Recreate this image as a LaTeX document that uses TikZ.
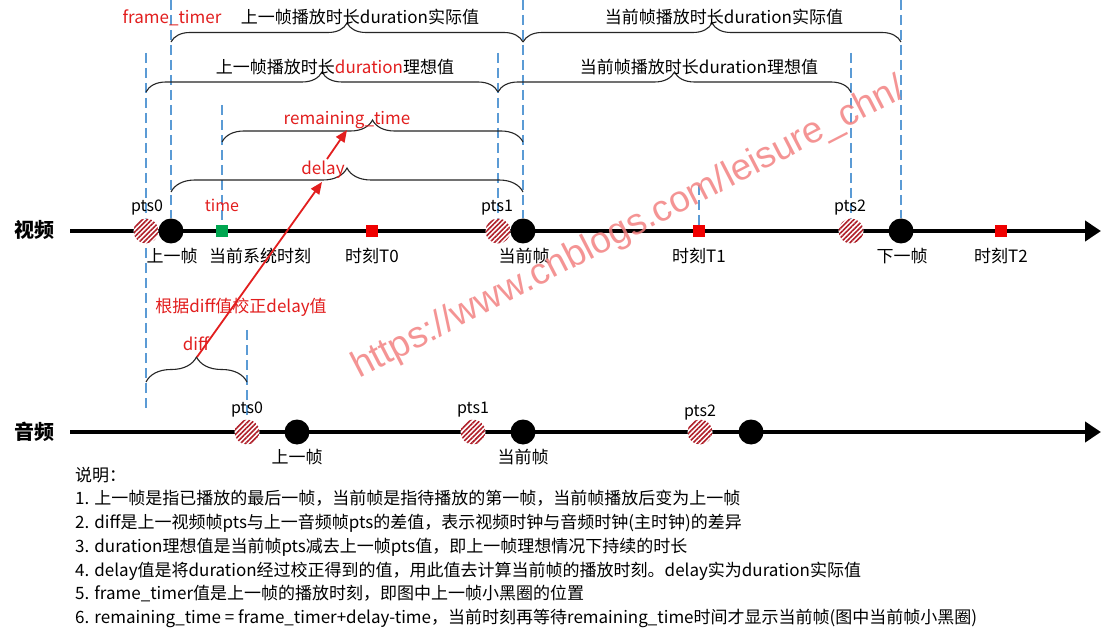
\documentclass[tikz,border=0pt]{standalone}
\usepackage{fontspec}
\setmainfont{Noto Sans CJK SC}
\newfontfamily\wmfont{Liberation Sans}
\usetikzlibrary{arrows.meta,decorations.pathreplacing,patterns.meta,backgrounds}
\definecolor{gblue}{RGB}{91,155,213}
\definecolor{tred}{RGB}{226,30,30}
\definecolor{sqred}{RGB}{240,0,0}
\definecolor{sqgreen}{RGB}{0,166,80}
\definecolor{hatch}{RGB}{175,30,40}
\definecolor{wm}{RGB}{243,130,130}
\tikzset{
  lbl/.style={font=\fontsize{17}{20}\selectfont, inner sep=0pt, text height=15pt, text depth=2pt},
  small/.style={font=\fontsize{16}{19}\selectfont, inner sep=0pt, text height=12pt, text depth=2pt},
  redlbl/.style={lbl, text=tred},
  axisname/.style={font=\fontsize{20}{22}\selectfont\bfseries, inner sep=0pt, text height=17pt, text depth=3pt},
  frame/.style={circle, fill=black, minimum size=25pt, inner sep=0pt},
  ptsdot/.style={circle, minimum size=25pt, inner sep=0pt, preaction={fill=white},
    pattern={Lines[angle=45,distance=3.4pt,line width=1.6pt]}, pattern color=hatch},
  sq/.style={minimum size=12pt, inner sep=0pt, fill=sqred},
  guide/.style={draw=gblue, line width=1.4pt, dash pattern=on 10pt off 5pt},
  timeaxis/.style={line width=4pt, -{Triangle[length=16pt,width=20pt]}},
  brc/.style={decorate, decoration={brace, amplitude=#1}, line width=1.1pt, draw=black!85},
  brc/.default=20pt,
  link/.style={draw=tred, line width=1.8pt, -{Triangle[length=12pt,width=10pt]}},
  note/.style={font=\fontsize{17}{20}\selectfont, inner sep=0pt, anchor=base west},
}
\begin{document}
\begin{tikzpicture}[x=1pt,y=-1pt]
\useasboundingbox (0,0) rectangle (1103,636);

% ---------- video axis ----------
\coordinate (vs) at (70,231);
\coordinate (ve) at (1101,231);
\draw[timeaxis] (vs) -- (ve);
\node[axisname] (vlabel) at (34,231) {视频};

\node[ptsdot] (vp0) at (146,231) {};
\node[frame] (vf0) at (171,231) {};
\node[sq, fill=sqgreen] (vt) at (222,231) {};
\node[sq] (t0) at (372,231) {};
\node[ptsdot] (vp1) at (498,231) {};
\node[frame] (vf1) at (523,231) {};
\node[sq] (t1) at (699,231) {};
\node[ptsdot] (vp2) at (851,231) {};
\node[frame] (vf2) at (901,231) {};
\node[sq] (t2) at (1001,231) {};

\node[small] (lp0) at (147,207) {pts0};
\node[small, text=tred] (ltime) at (222,207) {time};
\node[small] (lp1) at (497,207) {pts1};
\node[small] (lp2) at (850,207) {pts2};
\node[lbl] (lprev) at (172,256) {上一帧};
\node[lbl] (lsys) at (260,256) {当前系统时刻};
\node[lbl] (lt0) at (372,256) {时刻T0};
\node[lbl] (lcur) at (524,256) {当前帧};
\node[lbl] (lt1) at (699,256) {时刻T1};
\node[lbl] (lnext) at (902,256) {下一帧};
\node[lbl] (lt2) at (1001,256) {时刻T2};

% ---------- audio axis ----------
\coordinate (as) at (70,432);
\coordinate (ae) at (1101,432);
\draw[timeaxis] (as) -- (ae);
\node[axisname] (alabel) at (34,432) {音频};

\node[ptsdot] (ap0) at (247,432) {};
\node[frame] (af0) at (297,432) {};
\node[ptsdot] (ap1) at (473,432) {};
\node[frame] (af1) at (523,432) {};
\node[ptsdot] (ap2) at (700,432) {};
\node[frame] (af2) at (751,432) {};

\node[small] (alp0) at (247,408) {pts0};
\node[small] (alp1) at (473,408) {pts1};
\node[small] (alp2) at (700,411) {pts2};
\node[lbl] (alprev) at (297,457) {上一帧};
\node[lbl] (alcur) at (523,457) {当前帧};

% ---------- braces ----------
\coordinate (b1l) at (171,42);  \coordinate (b1r) at (523,42);
\coordinate (b2l) at (523,42);  \coordinate (b2r) at (901,42);
\coordinate (b3l) at (146,92);  \coordinate (b3r) at (498,92);
\coordinate (b4l) at (498,92);  \coordinate (b4r) at (851,92);
\coordinate (b5l) at (222,142); \coordinate (b5r) at (523,142);
\coordinate (b6l) at (171,192); \coordinate (b6r) at (523,192);
\coordinate (b7l) at (146,382); \coordinate (b7r) at (247,382);
\draw[brc=19pt] (b1l) -- (b1r);
\draw[brc=19pt] (b2l) -- (b2r);
\draw[brc=20pt] (b3l) -- (b3r);
\draw[brc=20pt] (b4l) -- (b4r);
\draw[brc=22pt] (b5l) -- (b5r);
\draw[brc=24pt] (b6l) -- (b6r);
\draw[brc=25pt] (b7l) -- (b7r);

\node[redlbl] (ft) at (172,17) {frame\_timer};
\node[lbl] (b1t) at (360,17) {上一帧播放时长duration实际值};
\node[lbl] (b2t) at (724,17) {当前帧播放时长duration实际值};
\node[lbl] (b3t) at (335,67) {上一帧播放时长\textcolor{tred}{duration}理想值};
\node[lbl] (b4t) at (699,67) {当前帧播放时长duration理想值};
\node[redlbl] (rt) at (347,118) {remaining\_time};
\node[redlbl] (dl) at (323,168) {delay};
\node[redlbl] (df) at (196,344) {diff};
\node[redlbl] (fix) at (241,306) {根据diff值校正delay值};

% ---------- red arrows ----------
\coordinate (dtip) at (197,357);
\coordinate (dhead) at (322,182);
\coordinate (r0) at (327,159);
\coordinate (r1) at (347,130);
\draw[link] (dtip) -- (dhead);
\draw[link] (r0) -- (r1);

% ---------- guides ----------
\coordinate (g0a) at (146,53);  \coordinate (g0b) at (146,408);
\coordinate (g1a) at (171,0);
\coordinate (g2a) at (222,105);
\coordinate (g3a) at (498,53);
\coordinate (g4a) at (523,0);
\coordinate (g5a) at (699,185);
\coordinate (g6a) at (851,53);
\coordinate (g7a) at (901,0);
\coordinate (g8a) at (247,330);
\begin{scope}[on background layer]
\fill[white] (0,0) rectangle (1103,636);
\draw[guide] (g0a) -- (g0b);
\draw[guide] (g1a) -- (vf0.north);
\draw[guide] (g2a) -- (vt.north);
\draw[guide] (g3a) -- (vp1.north);
\draw[guide] (g4a) -- (vf1.north);
\draw[guide] (g5a) -- (t1.north);
\draw[guide] (g6a) -- (vp2.north);
\draw[guide] (g7a) -- (vf2.north);
\draw[guide] (g8a) -- (ap0.north);
\end{scope}

% ---------- notes ----------
\node[note] (n0) at (75,481) {说明：};
\node[note] (n1) at (75,504) {1. 上一帧是指已播放的最后一帧，当前帧是指待播放的第一帧，当前帧播放后变为上一帧};
\node[note] (n2) at (75,528) {2. diff是上一视频帧pts与上一音频帧pts的差值，表示视频时钟与音频时钟(主时钟)的差异};
\node[note] (n3) at (75,552) {3. duration理想值是当前帧pts减去上一帧pts值，即上一帧理想情况下持续的时长};
\node[note] (n4) at (75,576) {4. delay值是将duration经过校正得到的值，用此值去计算当前帧的播放时刻。delay实为duration实际值};
\node[note] (n5) at (75,599) {5. frame\_timer值是上一帧的播放时刻，即图中上一帧小黑圈的位置};
\node[note] (n6) at (75,623) {6. remaining\_time = frame\_timer+delay-time，当前时刻再等待remaining\_time时间才显示当前帧(图中当前帧小黑圈)};

% ---------- watermark ----------
\node[font=\wmfont\fontsize{37}{40}\selectfont, text=wm, rotate=27.3, anchor=base west,
  inner sep=0pt, opacity=0.85] (wmk) at (359,379) {https://www.cnblogs.com/leisure\_chn/};
\end{tikzpicture}
\end{document}
